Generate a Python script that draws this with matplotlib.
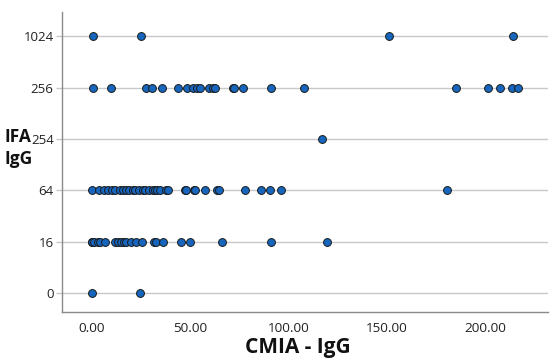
import matplotlib
matplotlib.use("Agg")
import matplotlib.pyplot as plt

plt.rcParams['font.family'] = ['Open Sans', 'DejaVu Sans']

categories = ['0', '16', '64', '254', '256', '1024']
x_ticks = [0, 50, 100, 150, 200]
x_tick_labels = ['0.00', '50.00', '100.00', '150.00', '200.00']

vals_0 = [0.5, 24.5]
vals_16 = [0, 0.5, 1.5, 3.1, 4.1, 6.6, 11.7, 13.3, 14.8, 16.3, 17.3, 19.9,
           22.4, 25.5, 31.6, 32.7, 36.2, 45.4, 50.0, 66.3, 91.3, 119.9]
vals_64 = [0, 3.6, 6.1, 8.2, 10.2, 11.7, 14.3, 15.8, 17.3, 18.9, 20.9, 21.9,
           24.0, 26.0, 27.0, 29.1, 31.1, 32.1, 33.2, 34.7, 37.8, 38.8, 47.4,
           48.0, 52.0, 52.6, 57.7, 63.8, 64.8, 78.1, 86.2, 90.8, 96.4, 180.6]
vals_254 = [117.3]
vals_256 = [1.0, 9.7, 27.6, 30.6, 35.7, 43.9, 48.5, 51.5, 53.6, 55.1, 59.7,
            61.7, 62.8, 71.9, 72.4, 77.0, 91.3, 108.2, 185.2, 201.5, 207.7,
            213.8, 216.8]
vals_1024 = [1.0, 25.0, 151.0, 214.3]

series = [vals_0, vals_16, vals_64, vals_254, vals_256, vals_1024]

fig = plt.figure(figsize=(5.5, 3.61), dpi=100)
ax = fig.add_axes([62/550, 1-312/361, (548-62)/550, (312-12)/361])

for i, vals in enumerate(series):
    ax.scatter(vals, [i]*len(vals), s=32, c='#1765bd', edgecolors='#1a1a1a',
               linewidths=0.7, zorder=3)

ax.set_xlim(-15, 232)
ax.set_ylim(-0.37, 5.47)
ax.set_yticks(range(len(categories)))
ax.set_yticklabels(categories)
ax.set_xticks(x_ticks)
ax.set_xticklabels(x_tick_labels)

ax.grid(axis='y', color='#c8c8c8', linewidth=1.0, zorder=0)
ax.set_axisbelow(True)
for s in ['top', 'right']:
    ax.spines[s].set_visible(False)
for s in ['left', 'bottom']:
    ax.spines[s].set_color('#8a8a8a')
    ax.spines[s].set_linewidth(1.0)

ax.tick_params(axis='x', length=0, pad=7, labelsize=9.7, labelcolor='#222222')
ax.tick_params(axis='y', length=4.5, width=1.0, color='#c8c8c8', pad=1.5,
               labelsize=9.5, labelcolor='#222222')

fig.text(4/550, 1-148/361, 'IFA\nIgG', ha='left', va='center',
         fontsize=12.5, fontweight='bold', linespacing=1.25, color='#111111')
fig.text(298/550, 1-347/361, 'CMIA - IgG', ha='center', va='center',
         fontsize=15, fontweight='bold', color='#111111')

fig.savefig('out.png', dpi=100)
